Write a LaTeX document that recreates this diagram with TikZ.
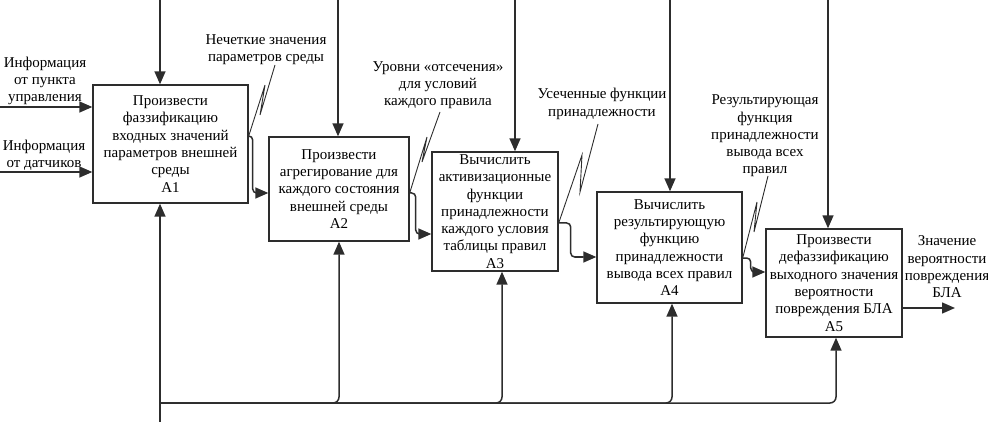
\documentclass[tikz,border=0pt]{standalone}
\usepackage{fontspec}
\setmainfont{Liberation Serif}
\newfontfamily\tnr{Liberation Serif}
\usetikzlibrary{arrows.meta}
\definecolor{ln}{RGB}{45,45,45}
\tikzset{
  box/.style={draw=ln, line width=1.4pt, align=center, inner sep=2pt, font=\tnr\fontsize{15}{17.3}\selectfont},
  lbl/.style={align=center, inner sep=0pt, font=\tnr\fontsize{15}{17.3}\selectfont},
  arr/.style={draw=ln, line width=1.5pt, -{Triangle[length=13pt,width=11pt]}},
  lead/.style={draw=ln, line width=0.9pt},
}
\begin{document}
\begin{tikzpicture}[x=1pt,y=-1pt]
\useasboundingbox (0,0) rectangle (988,422);
% boxes
\node[box, minimum width=155pt, minimum height=118pt] (A1) at (170.5,144) {Произвести\\фаззификацию\\входных значений\\параметров внешней\\среды\\А1};
\node[box, minimum width=140pt, minimum height=104pt] (A2) at (339,189) {Произвести\\агрегирование для\\каждого состояния\\внешней среды\\А2};
\node[box, minimum width=126pt, minimum height=119pt] (A3) at (495,211.5) {Вычислить\\активизационные\\функции\\принадлежности\\каждого условия\\таблицы правил\\А3};
\node[box, minimum width=145pt, minimum height=111pt] (A4) at (669.5,247.5) {Вычислить\\результирующую\\функцию\\принадлежности\\вывода всех правил\\А4};
\node[box, minimum width=136pt, minimum height=108pt] (A5) at (834,283) {Произвести\\дефаззификацию\\выходного значения\\вероятности\\повреждения БЛА\\А5};
% labels
\node[lbl] (in1) at (45,81) {Информация\\от пункта\\управления};
\node[lbl] (in2) at (44,155.5) {Информация\\от датчиков};
\node[lbl] (L1) at (266,50) {Нечеткие значения\\параметров среды};
\node[lbl] (L2) at (438,85) {Уровни «отсечения»\\для условий\\каждого правила};
\node[lbl] (L3) at (602,104) {Усеченные функции\\принадлежности};
\node[lbl] (L4) at (765,136) {Результирующая\\функция\\принадлежности\\вывода всех\\правил};
\node[lbl] (out) at (947,267) {Значение\\вероятности\\повреждения\\БЛА};
% coordinates
\coordinate (i1) at (0,107);
\coordinate (i2) at (0,172);
\coordinate (c1) at (160,0);
\coordinate (c2) at (338,0);
\coordinate (c3) at (515,0);
\coordinate (c4) at (670,0);
\coordinate (c5) at (828,0);
\coordinate (m0) at (160,422);
\coordinate (bus) at (160,403);
\coordinate (o5) at (955,308);
% inputs
\draw[arr] (i1) -- (i1 -| A1.west);
\draw[arr] (i2) -- (i2 -| A1.west);
% controls
\draw[arr] (c1) -- (c1 |- A1.north);
\draw[arr] (c2) -- (c2 |- A2.north);
\draw[arr] (c3) -- (c3 |- A3.north);
\draw[arr] (c4) -- (c4 |- A4.north);
\draw[arr] (c5) -- (c5 |- A5.north);
% mechanisms
\draw[arr] (m0) -- (m0 |- A1.south);
\draw[arr, rounded corners=6pt] (bus) -| (A2.south);
\draw[arr, rounded corners=6pt] (bus) -| ([xshift=7pt]A3.south);
\draw[arr, rounded corners=6pt] (bus) -| ([xshift=2.5pt]A4.south);
\draw[arr, rounded corners=6pt] (bus) -| ([xshift=2pt]A5.south);
% flows
\draw[arr, rounded corners=4pt] ([yshift=8pt]A1.east) -- ++(4,0) |- ([yshift=-4pt]A2.west);
\draw[arr, rounded corners=4pt] ([yshift=-4pt]A2.east) -- ++(6,0) |- ([yshift=-22.5pt]A3.west);
\draw[arr, rounded corners=4pt] ([yshift=-11.5pt]A3.east) -- ++(12,0) |- ([yshift=-9.5pt]A4.west);
\draw[arr, rounded corners=4pt] ([yshift=-10.5pt]A4.east) -- ++(8,0) |- ([yshift=11pt]A5.west);
\draw[arr] ([yshift=-25pt]A5.east) -- (o5);
% leaders
\draw[lead] (275,65) -- (260,115) -- (265,85) -- ([yshift=8pt]A1.east);
\draw[lead] (440,112) -- (422,162) -- (427,137) -- ([yshift=-4pt]A2.east);
\draw[lead] (598,124) -- (580,192) -- (582,155) -- ([yshift=-11.5pt]A3.east);
\draw[lead] (768,176) -- (754,232) -- (757,202) -- ([yshift=-10.5pt]A4.east);
\end{tikzpicture}
\end{document}
